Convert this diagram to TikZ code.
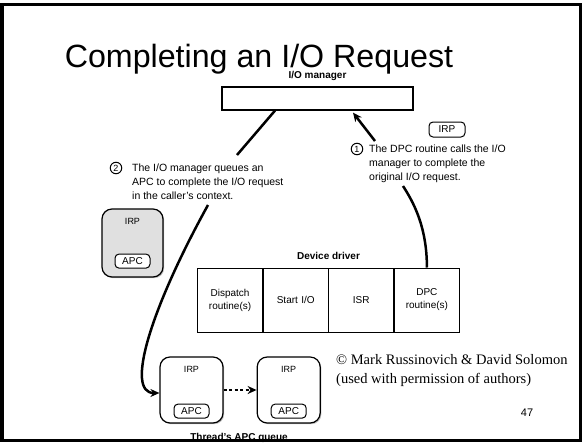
\documentclass[tikz,border=0pt]{standalone}
\usepackage{fontspec}
\setmainfont{Liberation Sans}
\newfontfamily\serifcopy{Liberation Serif}
\usetikzlibrary{math}
\usetikzlibrary{matrix}
\usetikzlibrary{arrows.meta,shadows,positioning}

\begin{document}
\begin{tikzpicture}[x=1pt,y=-1pt]

\tikzmath{
	\W = 65;
}

\tikzset{driver table/.style={
    matrix of nodes,
    column sep=-\pgflinewidth, row sep=-\pgflinewidth,
    nodes={draw, line width=1pt,
      minimum height=64pt,
      anchor=center,
      text width=#1,
      align=center,
      inner sep=0pt,
      font=\fontsize{10}{13}\selectfont
    },
  },
  driver table/.default=\W pt,
  boxlbl/.style={font=\bfseries\fontsize{10}{12}\selectfont, inner sep=0pt},
  note/.style={align=left, anchor=north west, inner sep=0pt,
    font=\fontsize{10.5}{14}\selectfont},
  num/.style={circle, draw, line width=1pt, inner sep=0pt,
    minimum size=11.5pt, font=\fontsize{9}{9}\selectfont},
  irpbox/.style={draw, rounded corners=10pt, line width=1.2pt, fill=white,
    minimum width=63pt, minimum height=66pt,
    drop shadow={shadow xshift=1.2pt, shadow yshift=-1.2pt, fill=black!50}},
  tag/.style={draw, rounded corners=4pt, line width=1pt, fill=white,
    minimum width=35pt, minimum height=14pt, inner sep=0pt,
    font=\fontsize{10}{10}\selectfont},
  flow/.style={line width=2.5pt},
  flowarrow/.style={flow, -{Stealth[length=9pt,width=8pt]}}
}

\useasboundingbox (0,0) rectangle (582,445);

% title
\node[font=\fontsize{32.2}{33}\selectfont, anchor=base] (title) at (259,67) {Completing an I/O Request};

% I/O manager
\node[draw, line width=1.2pt, minimum width=191pt, minimum height=23pt, fill=white,
  drop shadow={shadow xshift=1.2pt, shadow yshift=-1.2pt, fill=black!50}] (mgr) at (317.5,98.5) {};
\node[boxlbl, above=6pt of mgr] (mgrlbl) {I/O manager};

% device driver
\matrix[driver table] (drv) at (328.5,300)
{
{Dispatch\\routine(s)} & Start I/O & ISR & {DPC\\routine(s)} \\
};
\node[boxlbl, above=4pt of drv] (drvlbl) {Device driver};

% step 1
\node[tag, minimum width=36pt, minimum height=15pt] (irptag) at (447,129.5) {IRP};
\node[note] (t1) at (369,145) {The DPC routine calls the I/O\\manager to complete the\\original I/O request.};
\node[num] (n1) at (357,149) {1};

% step 2
\node[note] (t2) at (132,164) {The I/O manager queues an\\APC to complete the I/O request\\in the caller's context.};
\node[num] (n2) at (116,168) {2};

% pending IRP
\node[irpbox, fill=black!12, minimum width=61pt, minimum height=68pt] (pend) at (132.5,243) {};
\node[font=\fontsize{9}{9}\selectfont, inner sep=0pt, below=10pt of pend.north] (pendirp) {IRP};
\node[tag, above=9pt of pend.south] (pendapc) {APC};

% APC queue
\node[irpbox] (q1) at (191.5,390) {};
\node[font=\fontsize{9}{9}\selectfont, inner sep=0pt, below=9.5pt of q1.north] (q1irp) {IRP};
\node[tag, above=5pt of q1.south] (q1apc) {APC};
\node[irpbox, right=33pt of q1] (q2) {};
\node[font=\fontsize{9}{9}\selectfont, inner sep=0pt, below=9.5pt of q2.north] (q2irp) {IRP};
\node[tag, above=5pt of q2.south] (q2apc) {APC};
\node[boxlbl, anchor=base] (qlbl) at (239,440.5) {Thread's APC queue};

% connectors
\coordinate (t1in) at (403,186);
\coordinate (t1out) at (375,141);
\coordinate (t2in) at (237,155);
\coordinate (t2out) at (208,205);
\draw[flow] (drv-1-4.north) .. controls (427,225) and (412,200) .. (t1in);
\draw[flowarrow] (t1out) -- ([xshift=35.5pt,yshift=-2pt]mgr.south);
\draw[flow] ([xshift=-42.5pt]mgr.south) -- (t2in);
\draw[flowarrow] (t2out) .. controls (150,310) and (125,393) .. ([yshift=-3pt]q1.west);
\draw[flowarrow, dash pattern=on 3pt off 2.5pt] (q1) -- (q2);

% credits
\node[anchor=north west, align=left, inner sep=0pt,
  font=\serifcopy\fontsize{14.5}{19}\selectfont] (credit) at (336,354)
  {© Mark Russinovich \& David Solomon\\(used with permission of authors)};
\node[font=\fontsize{11}{11}\selectfont] (pageno) at (527,413) {47};

% frame
\draw[line width=3pt] (2,4) rectangle (580,440.5);

\end{tikzpicture}
\end{document}
